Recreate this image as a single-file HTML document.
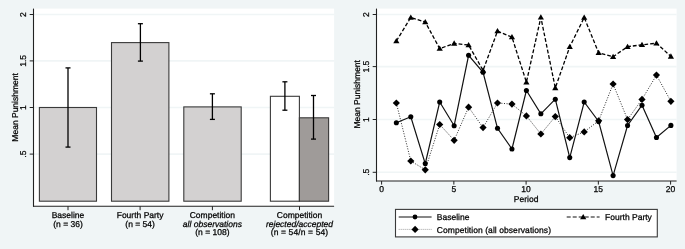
<!DOCTYPE html>
<html><head><meta charset="utf-8"><style>
html,body{margin:0;padding:0;background:#f0f5f6;width:685px;height:249px;overflow:hidden;}
svg{display:block;}
text{-webkit-font-smoothing:antialiased;text-rendering:geometricPrecision;}
text{font-family:"Liberation Sans", sans-serif;fill:#000;stroke:#000;stroke-width:0.25px;}
</style></head><body>
<svg style="will-change:transform" width="685" height="249" viewBox="0 0 685 249">
<rect x="0" y="0" width="685" height="249" fill="#f0f5f6"/>
<rect x="33.5" y="8.6" width="300.6" height="197.6" fill="#fff"/>
<line x1="33.5" y1="154.10" x2="334.1" y2="154.10" stroke="#f0f5f6" stroke-width="1.6"/>
<line x1="33.5" y1="107.50" x2="334.1" y2="107.50" stroke="#f0f5f6" stroke-width="1.6"/>
<line x1="33.5" y1="60.90" x2="334.1" y2="60.90" stroke="#f0f5f6" stroke-width="1.6"/>
<line x1="33.5" y1="14.50" x2="334.1" y2="14.50" stroke="#f0f5f6" stroke-width="1.6"/>
<rect x="39.4" y="107.50" width="57.10" height="93.70" fill="#d3d1d1" stroke="#3a3a3a" stroke-width="1.1"/>
<rect x="111.5" y="42.60" width="57.40" height="158.60" fill="#d3d1d1" stroke="#3a3a3a" stroke-width="1.1"/>
<rect x="183.8" y="106.90" width="57.40" height="94.30" fill="#d3d1d1" stroke="#3a3a3a" stroke-width="1.1"/>
<rect x="270.4" y="96.30" width="29.00" height="104.90" fill="#ffffff" stroke="#3a3a3a" stroke-width="1.1"/>
<rect x="299.4" y="117.80" width="29.20" height="83.40" fill="#9f9b99" stroke="#3a3a3a" stroke-width="1.1"/>
<line x1="68.00" y1="67.9" x2="68.00" y2="147.1" stroke="#000" stroke-width="1.3"/>
<line x1="65.50" y1="67.9" x2="70.50" y2="67.9" stroke="#000" stroke-width="1.3"/>
<line x1="65.50" y1="147.1" x2="70.50" y2="147.1" stroke="#000" stroke-width="1.3"/>
<line x1="140.40" y1="23.7" x2="140.40" y2="61.1" stroke="#000" stroke-width="1.3"/>
<line x1="137.90" y1="23.7" x2="142.90" y2="23.7" stroke="#000" stroke-width="1.3"/>
<line x1="137.90" y1="61.1" x2="142.90" y2="61.1" stroke="#000" stroke-width="1.3"/>
<line x1="212.40" y1="93.8" x2="212.40" y2="119.4" stroke="#000" stroke-width="1.3"/>
<line x1="209.90" y1="93.8" x2="214.90" y2="93.8" stroke="#000" stroke-width="1.3"/>
<line x1="209.90" y1="119.4" x2="214.90" y2="119.4" stroke="#000" stroke-width="1.3"/>
<line x1="284.90" y1="81.8" x2="284.90" y2="110.2" stroke="#000" stroke-width="1.3"/>
<line x1="282.40" y1="81.8" x2="287.40" y2="81.8" stroke="#000" stroke-width="1.3"/>
<line x1="282.40" y1="110.2" x2="287.40" y2="110.2" stroke="#000" stroke-width="1.3"/>
<line x1="313.50" y1="95.5" x2="313.50" y2="139.1" stroke="#000" stroke-width="1.3"/>
<line x1="311.00" y1="95.5" x2="316.00" y2="95.5" stroke="#000" stroke-width="1.3"/>
<line x1="311.00" y1="139.1" x2="316.00" y2="139.1" stroke="#000" stroke-width="1.3"/>
<line x1="33.5" y1="8.6" x2="33.5" y2="206.7" stroke="#222" stroke-width="1.1"/>
<line x1="33.0" y1="206.2" x2="334.1" y2="206.2" stroke="#222" stroke-width="1.1"/>
<line x1="29.7" y1="154.10" x2="33.5" y2="154.10" stroke="#222" stroke-width="1"/>
<text x="26.1" y="154.10" transform="rotate(-90 26.1 154.10)" text-anchor="middle" font-size="8.5">.5</text>
<line x1="29.7" y1="107.50" x2="33.5" y2="107.50" stroke="#222" stroke-width="1"/>
<text x="26.1" y="107.50" transform="rotate(-90 26.1 107.50)" text-anchor="middle" font-size="8.5">1</text>
<line x1="29.7" y1="60.90" x2="33.5" y2="60.90" stroke="#222" stroke-width="1"/>
<text x="26.1" y="60.90" transform="rotate(-90 26.1 60.90)" text-anchor="middle" font-size="8.5">1.5</text>
<line x1="29.7" y1="14.50" x2="33.5" y2="14.50" stroke="#222" stroke-width="1"/>
<text x="26.1" y="14.50" transform="rotate(-90 26.1 14.50)" text-anchor="middle" font-size="8.5">2</text>
<text x="17.7" y="107.4" transform="rotate(-90 17.7 107.4)" text-anchor="middle" font-size="8.5">Mean Punishment</text>
<line x1="68.0" y1="206.2" x2="68.0" y2="210.2" stroke="#222" stroke-width="1"/>
<text x="68.0" y="218.10" text-anchor="middle" font-size="8.5">Baseline</text>
<text x="68.0" y="226.70" text-anchor="middle" font-size="8.5">(n = 36)</text>
<line x1="140.1" y1="206.2" x2="140.1" y2="210.2" stroke="#222" stroke-width="1"/>
<text x="140.1" y="218.10" text-anchor="middle" font-size="8.5">Fourth Party</text>
<text x="140.1" y="226.70" text-anchor="middle" font-size="8.5">(n = 54)</text>
<line x1="212.4" y1="206.2" x2="212.4" y2="210.2" stroke="#222" stroke-width="1"/>
<text x="212.4" y="218.10" text-anchor="middle" font-size="8.5">Competition</text>
<text x="212.4" y="226.70" text-anchor="middle" font-size="8.5" font-style="italic">all observations</text>
<text x="212.4" y="235.00" text-anchor="middle" font-size="8.5">(n = 108)</text>
<line x1="299.5" y1="206.2" x2="299.5" y2="210.2" stroke="#222" stroke-width="1"/>
<text x="299.5" y="218.10" text-anchor="middle" font-size="8.5">Competition</text>
<text x="299.5" y="226.70" text-anchor="middle" font-size="8.5" font-style="italic">rejected/accepted</text>
<text x="299.5" y="235.00" text-anchor="middle" font-size="8.5" letter-spacing="0.12">(n = 54/n = 54)</text>
<rect x="376.5" y="8.6" width="300.10" height="172.40" fill="#fff"/>
<line x1="376.5" y1="172.30" x2="676.6" y2="172.30" stroke="#f0f5f6" stroke-width="1.6"/>
<line x1="376.5" y1="119.50" x2="676.6" y2="119.50" stroke="#f0f5f6" stroke-width="1.6"/>
<line x1="376.5" y1="66.60" x2="676.6" y2="66.60" stroke="#f0f5f6" stroke-width="1.6"/>
<line x1="376.5" y1="14.50" x2="676.6" y2="14.50" stroke="#f0f5f6" stroke-width="1.6"/>
<polyline points="396.35,103.00 410.80,161.00 425.25,169.80 439.70,124.50 454.15,140.30 468.60,107.20 483.05,127.60 497.50,103.00 511.95,104.10 526.40,115.90 540.85,134.00 555.30,116.60 569.75,137.70 584.20,131.90 598.65,120.80 613.10,84.00 627.55,119.60 642.00,99.40 656.45,75.10 670.90,101.30" fill="none" stroke="#111" stroke-width="0.9" stroke-dasharray="1.0 1.6"/>
<polyline points="396.35,41.00 410.80,17.50 425.25,22.00 439.70,48.60 454.15,43.40 468.60,45.00 483.05,70.40 497.50,31.10 511.95,37.10 526.40,82.20 540.85,17.30 555.30,87.90 569.75,46.80 584.20,17.50 598.65,52.80 613.10,56.70 627.55,46.70 642.00,44.80 656.45,43.20 670.90,56.40" fill="none" stroke="#000" stroke-width="1.3" stroke-dasharray="3.8 2"/>
<polyline points="396.35,122.70 410.80,116.75 425.25,163.60 439.70,102.00 454.15,125.70 468.60,55.30 483.05,72.30 497.50,128.30 511.95,149.00 526.40,90.50 540.85,113.80 555.30,99.20 569.75,157.60 584.20,102.00 598.65,121.50 613.10,175.60 627.55,125.50 642.00,105.20 656.45,137.50 670.90,125.40" fill="none" stroke="#111" stroke-width="1.2"/>
<polygon points="396.35,99.40 399.95,103.00 396.35,106.60 392.75,103.00" fill="#000"/>
<polygon points="410.80,157.40 414.40,161.00 410.80,164.60 407.20,161.00" fill="#000"/>
<polygon points="425.25,166.20 428.85,169.80 425.25,173.40 421.65,169.80" fill="#000"/>
<polygon points="439.70,120.90 443.30,124.50 439.70,128.10 436.10,124.50" fill="#000"/>
<polygon points="454.15,136.70 457.75,140.30 454.15,143.90 450.55,140.30" fill="#000"/>
<polygon points="468.60,103.60 472.20,107.20 468.60,110.80 465.00,107.20" fill="#000"/>
<polygon points="483.05,124.00 486.65,127.60 483.05,131.20 479.45,127.60" fill="#000"/>
<polygon points="497.50,99.40 501.10,103.00 497.50,106.60 493.90,103.00" fill="#000"/>
<polygon points="511.95,100.50 515.55,104.10 511.95,107.70 508.35,104.10" fill="#000"/>
<polygon points="526.40,112.30 530.00,115.90 526.40,119.50 522.80,115.90" fill="#000"/>
<polygon points="540.85,130.40 544.45,134.00 540.85,137.60 537.25,134.00" fill="#000"/>
<polygon points="555.30,113.00 558.90,116.60 555.30,120.20 551.70,116.60" fill="#000"/>
<polygon points="569.75,134.10 573.35,137.70 569.75,141.30 566.15,137.70" fill="#000"/>
<polygon points="584.20,128.30 587.80,131.90 584.20,135.50 580.60,131.90" fill="#000"/>
<polygon points="598.65,117.20 602.25,120.80 598.65,124.40 595.05,120.80" fill="#000"/>
<polygon points="613.10,80.40 616.70,84.00 613.10,87.60 609.50,84.00" fill="#000"/>
<polygon points="627.55,116.00 631.15,119.60 627.55,123.20 623.95,119.60" fill="#000"/>
<polygon points="642.00,95.80 645.60,99.40 642.00,103.00 638.40,99.40" fill="#000"/>
<polygon points="656.45,71.50 660.05,75.10 656.45,78.70 652.85,75.10" fill="#000"/>
<polygon points="670.90,97.70 674.50,101.30 670.90,104.90 667.30,101.30" fill="#000"/>
<polygon points="393.25,43.23 399.45,43.23 396.35,37.93" fill="#000"/>
<polygon points="407.70,19.73 413.90,19.73 410.80,14.43" fill="#000"/>
<polygon points="422.15,24.23 428.35,24.23 425.25,18.93" fill="#000"/>
<polygon points="436.60,50.83 442.80,50.83 439.70,45.53" fill="#000"/>
<polygon points="451.05,45.63 457.25,45.63 454.15,40.33" fill="#000"/>
<polygon points="465.50,47.23 471.70,47.23 468.60,41.93" fill="#000"/>
<polygon points="479.95,72.63 486.15,72.63 483.05,67.33" fill="#000"/>
<polygon points="494.40,33.33 500.60,33.33 497.50,28.03" fill="#000"/>
<polygon points="508.85,39.33 515.05,39.33 511.95,34.03" fill="#000"/>
<polygon points="523.30,84.43 529.50,84.43 526.40,79.13" fill="#000"/>
<polygon points="537.75,19.53 543.95,19.53 540.85,14.23" fill="#000"/>
<polygon points="552.20,90.13 558.40,90.13 555.30,84.83" fill="#000"/>
<polygon points="566.65,49.03 572.85,49.03 569.75,43.73" fill="#000"/>
<polygon points="581.10,19.73 587.30,19.73 584.20,14.43" fill="#000"/>
<polygon points="595.55,55.03 601.75,55.03 598.65,49.73" fill="#000"/>
<polygon points="610.00,58.93 616.20,58.93 613.10,53.63" fill="#000"/>
<polygon points="624.45,48.93 630.65,48.93 627.55,43.63" fill="#000"/>
<polygon points="638.90,47.03 645.10,47.03 642.00,41.73" fill="#000"/>
<polygon points="653.35,45.43 659.55,45.43 656.45,40.13" fill="#000"/>
<polygon points="667.80,58.63 674.00,58.63 670.90,53.33" fill="#000"/>
<circle cx="396.35" cy="122.70" r="2.55" fill="#000"/>
<circle cx="410.80" cy="116.75" r="2.55" fill="#000"/>
<circle cx="425.25" cy="163.60" r="2.55" fill="#000"/>
<circle cx="439.70" cy="102.00" r="2.55" fill="#000"/>
<circle cx="454.15" cy="125.70" r="2.55" fill="#000"/>
<circle cx="468.60" cy="55.30" r="2.55" fill="#000"/>
<circle cx="483.05" cy="72.30" r="2.55" fill="#000"/>
<circle cx="497.50" cy="128.30" r="2.55" fill="#000"/>
<circle cx="511.95" cy="149.00" r="2.55" fill="#000"/>
<circle cx="526.40" cy="90.50" r="2.55" fill="#000"/>
<circle cx="540.85" cy="113.80" r="2.55" fill="#000"/>
<circle cx="555.30" cy="99.20" r="2.55" fill="#000"/>
<circle cx="569.75" cy="157.60" r="2.55" fill="#000"/>
<circle cx="584.20" cy="102.00" r="2.55" fill="#000"/>
<circle cx="598.65" cy="121.50" r="2.55" fill="#000"/>
<circle cx="613.10" cy="175.60" r="2.55" fill="#000"/>
<circle cx="627.55" cy="125.50" r="2.55" fill="#000"/>
<circle cx="642.00" cy="105.20" r="2.55" fill="#000"/>
<circle cx="656.45" cy="137.50" r="2.55" fill="#000"/>
<circle cx="670.90" cy="125.40" r="2.55" fill="#000"/>
<line x1="376.5" y1="8.6" x2="376.5" y2="181.5" stroke="#222" stroke-width="1.1"/>
<line x1="376.0" y1="181.0" x2="676.6" y2="181.0" stroke="#222" stroke-width="1.1"/>
<line x1="372.7" y1="172.30" x2="376.5" y2="172.30" stroke="#222" stroke-width="1"/>
<text x="368.8" y="172.30" transform="rotate(-90 368.8 172.30)" text-anchor="middle" font-size="8.5">.5</text>
<line x1="372.7" y1="119.50" x2="376.5" y2="119.50" stroke="#222" stroke-width="1"/>
<text x="368.8" y="119.50" transform="rotate(-90 368.8 119.50)" text-anchor="middle" font-size="8.5">1</text>
<line x1="372.7" y1="66.60" x2="376.5" y2="66.60" stroke="#222" stroke-width="1"/>
<text x="368.8" y="66.60" transform="rotate(-90 368.8 66.60)" text-anchor="middle" font-size="8.5">1.5</text>
<line x1="372.7" y1="14.50" x2="376.5" y2="14.50" stroke="#222" stroke-width="1"/>
<text x="368.8" y="14.50" transform="rotate(-90 368.8 14.50)" text-anchor="middle" font-size="8.5">2</text>
<text x="360" y="94.3" transform="rotate(-90 360 94.3)" text-anchor="middle" font-size="8.5">Mean Punishment</text>
<line x1="381.60" y1="181.0" x2="381.60" y2="184.6" stroke="#222" stroke-width="1"/>
<text x="381.60" y="192.4" text-anchor="middle" font-size="8.5">0</text>
<line x1="453.85" y1="181.0" x2="453.85" y2="184.6" stroke="#222" stroke-width="1"/>
<text x="453.85" y="192.4" text-anchor="middle" font-size="8.5">5</text>
<line x1="526.10" y1="181.0" x2="526.10" y2="184.6" stroke="#222" stroke-width="1"/>
<text x="526.10" y="192.4" text-anchor="middle" font-size="8.5">10</text>
<line x1="598.35" y1="181.0" x2="598.35" y2="184.6" stroke="#222" stroke-width="1"/>
<text x="598.35" y="192.4" text-anchor="middle" font-size="8.5">15</text>
<line x1="670.60" y1="181.0" x2="670.60" y2="184.6" stroke="#222" stroke-width="1"/>
<text x="670.60" y="192.4" text-anchor="middle" font-size="8.5">20</text>
<text x="526.10" y="201.7" text-anchor="middle" font-size="8.5">Period</text>
<rect x="395.5" y="209.4" width="261.80" height="27.50" fill="#fff" stroke="#3a3a3a" stroke-width="1.1"/>
<line x1="398.7" y1="217.0" x2="431.6" y2="217.0" stroke="#111" stroke-width="1.2"/>
<circle cx="415.00" cy="217.00" r="2.4" fill="#000"/>
<text x="436.8" y="219.8" font-size="8.5">Baseline</text>
<line x1="398.7" y1="229.4" x2="431.6" y2="229.4" stroke="#888" stroke-width="0.8" stroke-dasharray="1 1"/>
<polygon points="415.10,225.80 418.70,229.40 415.10,233.00 411.50,229.40" fill="#000"/>
<text x="436.8" y="232.7" font-size="8.5" letter-spacing="0.06">Competition (all observations)</text>
<line x1="566.7" y1="217" x2="599.6" y2="217" stroke="#111" stroke-width="1.2" stroke-dasharray="4 2"/>
<polygon points="580.10,219.23 586.30,219.23 583.20,213.93" fill="#000"/>
<text x="605.1" y="219.9" font-size="8.5">Fourth Party</text>
</svg>
</body></html>
